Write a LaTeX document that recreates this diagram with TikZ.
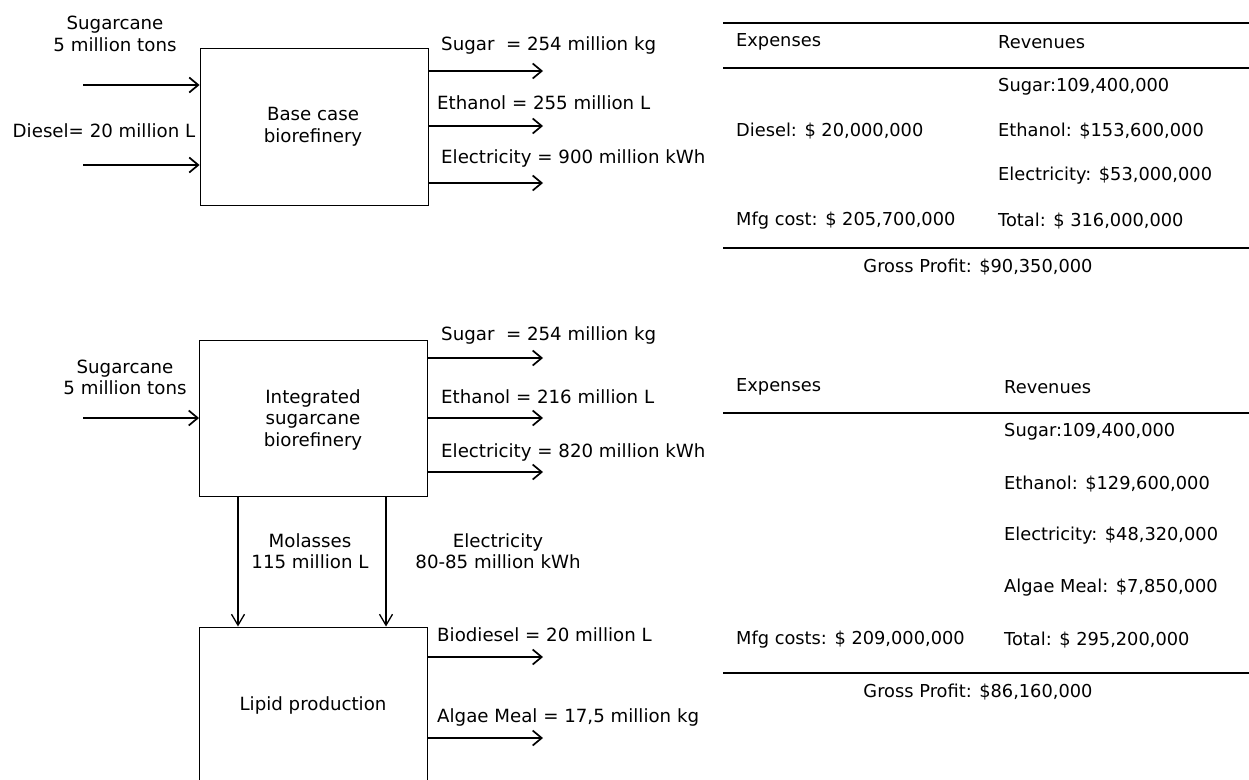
\documentclass[tikz,border=0pt]{standalone}
\usepackage{fontspec}
\setmainfont{DejaVu Sans}
\usetikzlibrary{arrows.meta}
\begin{document}
\begin{tikzpicture}[x=1pt,y=-1pt,
  flowbox/.style={draw,line width=0.9pt,minimum width=228pt,inner sep=0pt},
  flowtxt/.style={font=\fontsize{18.2}{21.5}\selectfont,align=center,inner sep=0pt},
  lbl/.style={font=\fontsize{18.2}{21.5}\selectfont,anchor=west,inner sep=0pt},
  tbl/.style={font=\fontsize{17.8}{21}\selectfont,anchor=west,inner sep=0pt},
  tblc/.style={font=\fontsize{17.8}{21}\selectfont,inner sep=0pt},
  flow/.style={line width=1.7pt,-{Straight Barb[length=9pt,width=15pt,line width=1.7pt]}},
  vflow/.style={line width=1.3pt,-{Straight Barb[length=11pt,width=13pt,line width=1.3pt]}},
  rule/.style={line width=2pt}]
\useasboundingbox (0,0) rectangle (1249,779);
\clip (0,0) rectangle (1249,779);
\fill[white] (0,0) rectangle (1249,779);

% ---------- top diagram ----------
\node[flowbox,minimum height=157pt] (box1) at (314,126.5) {};
\node[flowtxt] (t1) at (313,127) {Base case\\biorefinery};
\node[flowtxt] (sc1) at (115,34) {Sugarcane\\5 million tons};
\node[flowtxt] (ds1) at (104,131) {Diesel= 20 million L};
\coordinate (i1) at (83,85);
\coordinate (i2) at (83,165);
\draw[flow] (i1) -- (box1.west |- i1);
\draw[flow] (i2) -- (box1.west |- i2);
\coordinate (o1) at (543,71);
\coordinate (o2) at (543,126);
\coordinate (o3) at (543,183);
\draw[flow] (box1.east |- o1) -- (o1);
\draw[flow] (box1.east |- o2) -- (o2);
\draw[flow] (box1.east |- o3) -- (o3);
\node[lbl] (l1) at (441,45) {Sugar\ \ = 254 million kg};
\node[lbl] (l2) at (437,103) {Ethanol = 255 million L};
\node[lbl] (l3) at (441,158) {Electricity = 900 million kWh};

% ---------- top table ----------
\draw[rule] (723,23) -- (1249,23);
\draw[rule] (723,68) -- (1249,68);
\draw[rule] (723,248) -- (1249,248);
\node[tbl] (h1) at (736,42) {Expenses};
\node[tbl] (h2) at (998,42) {Revenues};
\node[tbl] (r1) at (998,86.5) {Sugar:109,400,000};
\node[tbl] (r2) at (736,131) {Diesel: \$ 20,000,000};
\node[tbl] (r3) at (998,131) {Ethanol: \$153,600,000};
\node[tbl] (r4) at (998,176) {Electricity: \$53,000,000};
\node[tbl] (r5) at (736,221) {Mfg cost: \$ 205,700,000};
\node[tbl] (r6) at (998,221) {Total: \$ 316,000,000};
\node[tblc] (gp1) at (978,267) {Gross Profit: \$90,350,000};

% ---------- bottom diagram ----------
\node[flowbox,minimum height=156pt] (box2) at (313.5,418) {};
\node[flowtxt] (t2) at (313,419.5) {Integrated\\sugarcane\\biorefinery};
\node[flowtxt] (sc2) at (125,377.5) {Sugarcane\\5 million tons};
\coordinate (i3) at (83,418);
\draw[flow] (i3) -- (box2.west |- i3);
\coordinate (o4) at (543,358);
\coordinate (o5) at (543,418);
\coordinate (o6) at (543,472);
\draw[flow] (box2.east |- o4) -- (o4);
\draw[flow] (box2.east |- o5) -- (o5);
\draw[flow] (box2.east |- o6) -- (o6);
\node[lbl] (l4) at (441,335) {Sugar\ \ = 254 million kg};
\node[lbl] (l5) at (441,397) {Ethanol = 216 million L};
\node[lbl] (l6) at (441,452) {Electricity = 820 million kWh};

\node[flowbox,minimum height=160pt,anchor=north] (box3) at (313.5,626.5) {};
\node[flowtxt] (t3) at (313,705) {Lipid production};
\coordinate (m1) at (238,560);
\coordinate (m2) at (386,560);
\draw[vflow] (box2.south -| m1) -- (box3.north -| m1);
\draw[vflow] (box2.south -| m2) -- (box3.north -| m2);
\node[flowtxt] (mol) at (310,551) {Molasses\\115 million L};
\node[flowtxt] (el) at (498,551) {Electricity\\80-85 million kWh};
\coordinate (o7) at (543,657);
\coordinate (o8) at (543,738);
\draw[flow] (box3.east |- o7) -- (o7);
\draw[flow] (box3.east |- o8) -- (o8);
\node[lbl] (l7) at (437,635) {Biodiesel = 20 million L};
\node[lbl] (l8) at (437,717) {Algae Meal = 17,5 million kg};

% ---------- bottom table ----------
\draw[rule] (723,673) -- (1249,673);
\draw[rule] (723,413) -- (1249,413);
\node[tbl] (h3) at (736,387) {Expenses};
\node[tbl] (h4) at (1004,387) {Revenues};
\node[tbl] (s1) at (1004,432) {Sugar:109,400,000};
\node[tbl] (s2) at (1004,484) {Ethanol: \$129,600,000};
\node[tbl] (s3) at (1004,536) {Electricity: \$48,320,000};
\node[tbl] (s4) at (1004,588) {Algae Meal: \$7,850,000};
\node[tbl] (s5) at (736,640) {Mfg costs: \$ 209,000,000};
\node[tbl] (s6) at (1004,640) {Total: \$ 295,200,000};
\node[tblc] (gp2) at (978,692) {Gross Profit: \$86,160,000};
\end{tikzpicture}
\end{document}
